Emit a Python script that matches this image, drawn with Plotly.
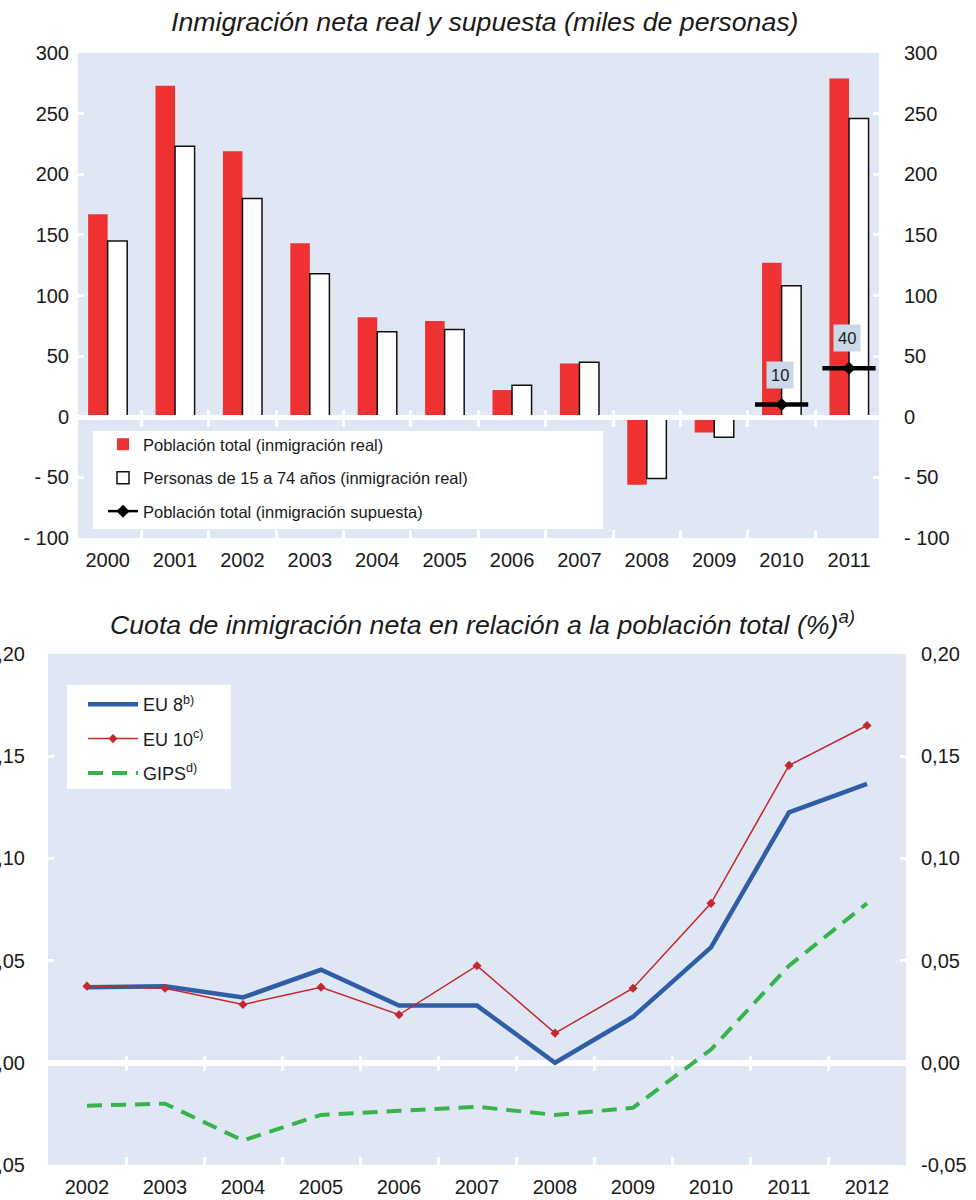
import plotly.graph_objects as go

# ---------------- data ----------------
years_top = ['2000', '2001', '2002', '2003', '2004', '2005', '2006', '2007', '2008', '2009', '2010', '2011']
real_total = [167, 273, 219, 143, 82, 79, 22, 44, -56, -13, 127, 279]
real_15_74 = [145, 223, 180, 118, 70, 72, 26, 45, -51, -17, 108, 246]
sup_years = ['2010', '2011']
sup_total = [10, 40]

years_bot = ['2002', '2003', '2004', '2005', '2006', '2007', '2008', '2009', '2010', '2011', '2012']
eu8 = [0.037, 0.0375, 0.032, 0.0455, 0.028, 0.028, 0.000, 0.0225, 0.0565, 0.1225, 0.1365]
eu10 = [0.0375, 0.0365, 0.0285, 0.037, 0.0235, 0.0475, 0.0145, 0.0365, 0.078, 0.1455, 0.165]
gips = [-0.021, -0.020, -0.038, -0.0255, -0.0235, -0.0215, -0.0255, -0.022, 0.0065, 0.0475, 0.078]

top_yticks = [-100, -50, 0, 50, 100, 150, 200, 250, 300]
top_yticktext = ['- 100', '- 50', '0', '50', '100', '150', '200', '250', '300']
bot_yticks = [-0.05, 0.0, 0.05, 0.10, 0.15, 0.20]
bot_yticktext = ['-0,05', '0,00', '0,05', '0,10', '0,15', '0,20']

names_top = ['Población total (inmigración real)',
             'Personas de 15 a 74 años (inmigración real)',
             'Población total (inmigración supuesta)']
names_bot = ['EU 8<sup>b)</sup>', 'EU 10<sup>c)</sup>', 'GIPS<sup>d)</sup>']
title_top = '<i>Inmigración neta real y supuesta (miles de personas)</i>'
title_bot = '<i>Cuota de inmigración neta en relación a la población total (%)<sup>a)</sup></i>'

# ---------------- layout geometry ----------------
W, H = 976, 1200
def px_x(p): return p / W
def px_y(p): return 1 - p / H

FONT = 'Liberation Sans, Arial, sans-serif'
TXT = '#1a1a1a'
BG = '#E0E7F4'
RED = '#EE3131'

top_xdom = [px_x(78), px_x(879)]
top_ydom = [px_y(538), px_y(53)]
top_xrange = [-0.44, 11.445]
top_yrange = [-100, 300]

bot_xdom = [px_x(48), px_x(906)]
bot_ydom = [px_y(1165), px_y(654)]
bot_xrange = [-0.5, 10.5]
bot_yrange = [-0.05, 0.20]

def zero_pos(dom, rng):
    return dom[0] + (0 - rng[0]) / (rng[1] - rng[0]) * (dom[1] - dom[0])

fig = go.Figure()

# ---------------- top chart ----------------
fig.add_trace(go.Bar(x=years_top, y=real_total, name=names_top[0], marker=dict(color=RED, line=dict(width=0)),
                     xaxis='x', yaxis='y', legend='legend', legendgroup='a'))
fig.add_trace(go.Bar(x=years_top, y=real_15_74, name=names_top[1],
                     marker=dict(color='white', line=dict(color='#111111', width=1.5)),
                     xaxis='x', yaxis='y', legend='legend', legendgroup='b'))
fig.add_trace(go.Scatter(x=sup_years, y=sup_total, mode='markers', showlegend=False,
                         marker=dict(symbol='line-ew', size=38, line=dict(color='black', width=4.5)),
                         xaxis='x', yaxis='y', legendgroup='c', hoverinfo='skip'))
sx, sy = [], []
for i, (yr, v) in enumerate(zip(sup_years, sup_total)):
    if i > 0:
        sx.append(yr); sy.append(None)
    sx.append(yr); sy.append(v)
fig.add_trace(go.Scatter(x=sx, y=sy, mode='lines+markers', name=names_top[2], connectgaps=False,
                         line=dict(color='black', width=2.5),
                         marker=dict(symbol='diamond', size=10, color='black'),
                         xaxis='x', yaxis='y', legend='legend', legendgroup='c'))

# ---------------- bottom chart ----------------
fig.add_trace(go.Scatter(x=years_bot, y=eu8, mode='lines', name=names_bot[0],
                         line=dict(color='#2F5EA7', width=4.5),
                         xaxis='x2', yaxis='y2', legend='legend2', legendgroup='d'))
fig.add_trace(go.Scatter(x=years_bot, y=eu10, mode='lines+markers', name=names_bot[1],
                         line=dict(color='#C4272E', width=1.5),
                         marker=dict(symbol='diamond', size=7, color='#C4272E'),
                         xaxis='x2', yaxis='y2', legend='legend2', legendgroup='e'))
fig.add_trace(go.Scatter(x=years_bot, y=gips, mode='lines', name=names_bot[2],
                         line=dict(color='#37B24D', width=4, dash='15px,9px'),
                         xaxis='x2', yaxis='y2', legend='legend2', legendgroup='f'))

# invisible helper traces so the secondary (right / zero-tick) axes are drawn
def ghost(x, y, xa, ya):
    fig.add_trace(go.Scatter(x=x, y=y, xaxis=xa, yaxis=ya, mode='markers', showlegend=False,
                             marker=dict(opacity=0, size=1), hoverinfo='skip'))
idx_top = list(range(len(years_top)))
idx_bot = list(range(len(years_bot)))
ghost(years_top, real_total, 'x', 'y3')
ghost(idx_top, real_total, 'x3', 'y')
ghost(idx_top, real_total, 'x4', 'y')
ghost(years_bot, eu8, 'x2', 'y4')
ghost(idx_bot, eu8, 'x5', 'y2')
ghost(idx_bot, eu8, 'x6', 'y2')

tickfont = dict(family=FONT, size=20, color=TXT)

def xmain(dom, rng):
    return dict(domain=dom, range=rng, type='category', ticks='inside', tickson='boundaries',
                ticklen=8, tickwidth=2.5, tickcolor='white', showgrid=False, zeroline=False,
                showline=False, tickfont=tickfont, ticklabelstandoff=8, fixedrange=True)

def ymain(dom, rng, vals, text, side, anchor, standoff, overlay=None, zl=0):
    d = dict(domain=dom, range=rng, tickmode='array', tickvals=vals, ticktext=text, side=side,
             anchor=anchor, ticks='inside', ticklen=6, tickwidth=2.5, tickcolor='white',
             showgrid=False, zeroline=zl > 0, zerolinecolor='white', zerolinewidth=max(zl, 1),
             showline=False, tickfont=tickfont,
             ticklabelstandoff=standoff, automargin=False, fixedrange=True)
    if overlay:
        d['overlaying'] = overlay
        d.pop('domain')
    return d

def xzero(overlay, rng, ncat, pos, side, line_w):
    return dict(overlaying=overlay, anchor='free', position=pos, range=rng, type='linear',
                tickmode='array', tickvals=[i + 0.5 for i in range(ncat - 1)], ticks='outside',
                ticklen=7, tickwidth=2.5, tickcolor='white', showticklabels=False, showgrid=False,
                zeroline=False, showline=line_w > 0, linecolor='white', linewidth=max(line_w, 1),
                layer='above traces', side=side, fixedrange=True)

fig.update_layout(
    width=W, height=H, margin=dict(l=0, r=0, t=0, b=0, autoexpand=False),
    paper_bgcolor='white', plot_bgcolor=BG,
    barmode='group', bargap=0.42, bargroupgap=0,
    font=dict(family=FONT, color=TXT),
    xaxis=xmain(top_xdom, top_xrange) | dict(anchor='y'),
    yaxis=ymain(top_ydom, top_yrange, top_yticks, top_yticktext, 'left', 'x', 8),
    yaxis3=ymain(top_ydom, top_yrange, top_yticks, top_yticktext, 'right', 'x', 24, overlay='y'),
    xaxis3=xzero('x', top_xrange, len(years_top), zero_pos(top_ydom, top_yrange), 'bottom', 5),
    xaxis4=xzero('x', top_xrange, len(years_top), zero_pos(top_ydom, top_yrange), 'top', 0),
    xaxis2=xmain(bot_xdom, bot_xrange) | dict(anchor='y2'),
    yaxis2=ymain(bot_ydom, bot_yrange, bot_yticks, bot_yticktext, 'left', 'x2', 22, zl=6),
    yaxis4=ymain(bot_ydom, bot_yrange, bot_yticks, bot_yticktext, 'right', 'x2', 14, overlay='y2'),
    xaxis5=xzero('x2', bot_xrange, len(years_bot), zero_pos(bot_ydom, bot_yrange), 'bottom', 0),
    xaxis6=xzero('x2', bot_xrange, len(years_bot), zero_pos(bot_ydom, bot_yrange), 'top', 0),
    legend=dict(x=px_x(103), y=px_y(427), xanchor='left', yanchor='top', bgcolor='rgba(0,0,0,0)',
                font=dict(family=FONT, size=16.5, color=TXT), tracegroupgap=9, traceorder='grouped'),
    legend2=dict(x=px_x(83), y=px_y(686), xanchor='left', yanchor='top', bgcolor='rgba(0,0,0,0)',
                 font=dict(family=FONT, size=18, color=TXT), tracegroupgap=8, traceorder='grouped',
                 itemwidth=50),
    showlegend=True,
)

shapes = [
    dict(type='rect', xref='paper', yref='paper', x0=px_x(93), x1=px_x(603), y0=px_y(529), y1=px_y(431),
         fillcolor='white', line=dict(width=0), layer='above'),
    dict(type='rect', xref='paper', yref='paper', x0=px_x(67), x1=px_x(231), y0=px_y(789), y1=px_y(685),
         fillcolor='white', line=dict(width=0), layer='above'),
]
fig.update_layout(shapes=shapes)

annotations = [
    dict(text=title_top, xref='paper', yref='paper', x=px_x(484), y=px_y(22), xanchor='center',
         yanchor='middle', showarrow=False, font=dict(family=FONT, size=26.7, color=TXT)),
    dict(text=title_bot, xref='paper', yref='paper', x=px_x(482), y=px_y(623), xanchor='center',
         yanchor='middle', showarrow=False, font=dict(family=FONT, size=26.7, color=TXT)),
]
for yr, v in zip(sup_years, sup_total):
    annotations.append(dict(text=str(v), x=years_top.index(yr), y=v, xref='x', yref='y',
                            showarrow=False, xanchor='center', yanchor='middle',
                            yshift=30, xshift=-2, bgcolor='#C9D9E7', borderpad=4,
                            font=dict(family=FONT, size=16.5, color=TXT)))
fig.update_layout(annotations=annotations)

fig.write_html('out.html', config={'displayModeBar': False},
               post_script="document.body.style.margin='0';")
